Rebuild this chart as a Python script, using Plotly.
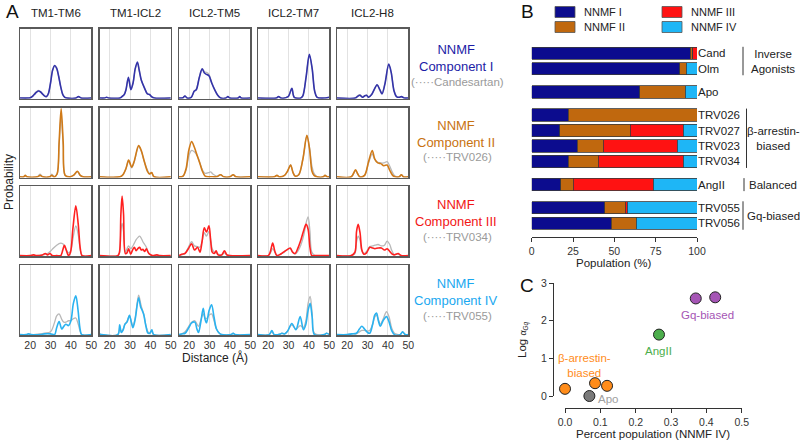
import plotly.graph_objects as go

# ---------------- Panel A data (knots of each distance distribution) ----------------
pair_names = ["TM1-TM6", "TM1-ICL2", "ICL2-TM5", "ICL2-TM7", "ICL2-H8"]
comp_names = ["NNMF<br>Component I", "NNMF<br>Component II", "NNMF<br>Component III", "NNMF<br>Component IV"]
ref_names = ["(·····Candesartan)", "(·····TRV026)", "(·····TRV034)", "(·····TRV055)"]

comp1_dist = [
    [15, 19, 20, 21, 22, 23, 24, 25, 26, 27, 28, 29, 30, 31, 32, 33, 34, 35, 36, 37, 38, 42.5, 43.7, 45, 50],
    [15, 17.5, 18.5, 19.5, 25, 26, 27.2, 28, 29.2, 30.4, 31.5, 32.5, 33.6, 34.5, 35.5, 37, 38.5, 39.6, 40.5, 42, 50],
    [15, 17, 17.9, 19, 21, 22.5, 23.5, 25, 26.4, 27.5, 28.5, 29.7, 31, 32.5, 34, 35.5, 38, 39, 40, 44, 44.8, 45.6, 50],
    [15, 24, 25.1, 26.3, 29.8, 31.6, 32.8, 36, 37, 38.6, 40.2, 41.6, 42.8, 44, 48, 50],
    [15, 24, 25, 26.2, 27.5, 28.5, 29.5, 30.5, 32, 34.7, 36, 37.1, 38.5, 40.4, 41.6, 43, 44.2, 45.5, 46.6, 48, 50],
]
comp1_prob = [
    [0, 0, 0.005, 0.02, 0.05, 0.08, 0.10, 0.09, 0.06, 0.03, 0.02, 0.07, 0.22, 0.40, 0.47, 0.43, 0.31, 0.16, 0.05, 0.01, 0, 0, 0.02, 0, 0],
    [0, 0, 0.01, 0, 0, 0.02, 0.05, 0.12, 0.30, 0.12, 0.22, 0.42, 0.52, 0.40, 0.26, 0.15, 0.06, 0.05, 0.02, 0, 0],
    [0, 0.005, 0.03, 0, 0.01, 0.1, 0.12, 0.3, 0.42, 0.36, 0.34, 0.32, 0.22, 0.12, 0.04, 0, 0, 0.02, 0, 0, 0.02, 0, 0],
    [0, 0, 0.02, 0, 0.02, 0.14, 0.01, 0, 0.03, 0.3, 0.63, 0.42, 0.1, 0.01, 0, 0.01],
    [0, 0, 0.02, 0.04, 0.01, 0.03, 0.04, 0.01, 0.05, 0.19, 0.12, 0.06, 0.2, 0.49, 0.37, 0.1, 0.02, 0.01, 0.02, 0, 0],
]
comp1_ref = [
    [0, 0, 0.005, 0.025, 0.06, 0.09, 0.11, 0.09, 0.06, 0.03, 0.02, 0.07, 0.22, 0.40, 0.46, 0.42, 0.31, 0.16, 0.05, 0.01, 0, 0, 0.02, 0, 0],
    [0, 0, 0.01, 0, 0, 0.02, 0.06, 0.12, 0.28, 0.13, 0.22, 0.41, 0.50, 0.40, 0.26, 0.15, 0.06, 0.05, 0.02, 0, 0],
    [0, 0.005, 0.03, 0, 0.01, 0.1, 0.13, 0.3, 0.42, 0.38, 0.37, 0.34, 0.23, 0.12, 0.04, 0, 0, 0.02, 0, 0, 0.02, 0, 0],
    [0, 0, 0.02, 0, 0.02, 0.14, 0.01, 0, 0.03, 0.3, 0.62, 0.42, 0.11, 0.01, 0, 0.01],
    [0, 0, 0.03, 0.05, 0.02, 0.03, 0.04, 0.01, 0.05, 0.19, 0.12, 0.07, 0.2, 0.48, 0.37, 0.11, 0.02, 0.01, 0.02, 0, 0],
]

comp2_dist = [
    [15, 16.8, 17.6, 18.5, 23.5, 24.9, 26.2, 29.5, 30.6, 31.8, 33.2, 34.2, 35.2, 36.2, 37.2, 39.5, 41.2, 43.2, 44.6, 46, 50],
    [15, 25, 26.5, 28, 29.3, 30.8, 32, 34.2, 35.5, 37, 38.5, 39.5, 40.6, 41.8, 50],
    [15, 17, 18.5, 19.8, 21.2, 22.5, 24, 25.3, 26.5, 27.8, 29.5, 30.6, 31.6, 33.5, 35.4, 37, 40, 41.6, 43, 50],
    [15, 23, 24.3, 25.5, 28, 29.5, 31, 32.2, 33.2, 35, 37, 39, 40.3, 41.5, 42.5, 44, 47, 47.9, 49, 50],
    [15, 22, 24.1, 25.2, 26.2, 28.5, 30.5, 32.3, 33.5, 35, 36.5, 38, 39.6, 40.8, 42.3, 43.5, 45.5, 46.6, 47.6, 50],
]
comp2_prob = [
    [0, 0, 0.02, 0, 0, 0.02, 0, 0, 0.02, 0, 0.04, 0.5, 0.98, 0.5, 0.02, 0, 0.02, 0.08, 0.02, 0, 0],
    [0, 0, 0.03, 0.12, 0.24, 0.14, 0.22, 0.45, 0.38, 0.22, 0.08, 0.04, 0.06, 0, 0],
    [0, 0.01, 0.12, 0.38, 0.51, 0.43, 0.3, 0.19, 0.08, 0.01, 0, 0, 0, 0, 0.03, 0, 0, 0.03, 0, 0],
    [0, 0, 0.02, 0, 0.02, 0.08, 0.17, 0.06, 0.01, 0.03, 0.25, 0.6, 0.4, 0.08, 0.02, 0, 0, 0.02, 0, 0],
    [0, 0, 0.1, 0.04, 0, 0.02, 0.22, 0.38, 0.26, 0.2, 0.19, 0.16, 0.17, 0.1, 0.02, 0, 0, 0.03, 0, 0],
]
comp2_ref = [
    [0, 0, 0.01, 0, 0, 0.04, 0, 0, 0.04, 0, 0.04, 0.45, 0.88, 0.45, 0.02, 0, 0.02, 0.07, 0.02, 0, 0],
    [0, 0, 0.03, 0.12, 0.23, 0.13, 0.21, 0.44, 0.37, 0.22, 0.1, 0.05, 0.06, 0, 0],
    [0, 0.01, 0.1, 0.3, 0.38, 0.36, 0.3, 0.2, 0.1, 0.05, 0.06, 0.07, 0.04, 0.01, 0.03, 0, 0, 0.03, 0, 0],
    [0, 0, 0.02, 0, 0.02, 0.08, 0.17, 0.06, 0.01, 0.03, 0.25, 0.59, 0.42, 0.15, 0.05, 0, 0, 0.02, 0, 0],
    [0, 0, 0.09, 0.04, 0, 0.02, 0.2, 0.33, 0.25, 0.21, 0.2, 0.2, 0.22, 0.16, 0.06, 0.01, 0, 0.03, 0, 0],
]

comp3_dist = [
    [15, 20, 21.7, 23, 26, 27.4, 28.5, 29.8, 30.8, 33, 35, 36, 36.8, 37.7, 38.8, 39.8, 41, 42.4, 43.6, 44.6, 45.5, 50],
    [15, 24, 24.8, 25.5, 26.1, 26.8, 27.7, 28.5, 29.3, 30.3, 31.2, 32.1, 33, 33.8, 34.7, 35.5, 36.3, 37.2, 38, 38.8, 39.6, 41, 43.2, 44.5, 50],
    [15, 16.3, 17.9, 19.6, 21.2, 22.6, 24.1, 25.3, 26.3, 27.4, 28.5, 29.7, 30.6, 31.3, 32.3, 33.2, 34.2, 36, 37.3, 38.5, 40, 50],
    [15, 20, 21, 22.2, 23.3, 24.3, 26, 27.5, 29, 30.8, 32, 33.2, 34.5, 36, 37.5, 38.6, 39.6, 40.5, 41.4, 43, 50],
    [15, 22, 23.8, 24.6, 25.4, 26.3, 27.2, 28.2, 29.5, 31.1, 32.5, 33.6, 35.2, 36.8, 38.3, 39.6, 40.9, 41.8, 43, 45, 46.5, 50],
]
comp3_prob = [
    [0, 0, 0.01, 0, 0.01, 0.03, 0.01, 0.03, 0, 0, 0, 0.08, 0.15, 0.08, 0, 0.05, 0.4, 0.72, 0.45, 0.1, 0, 0],
    [0, 0, 0.05, 0.6, 0.86, 0.6, 0.03, 0.04, 0.1, 0.02, 0.08, 0.12, 0.07, 0.1, 0.12, 0.08, 0.09, 0.06, 0.1, 0.05, 0.02, 0, 0.01, 0, 0],
    [0, 0.02, 0.03, 0.1, 0.17, 0.08, 0.12, 0.05, 0.2, 0.4, 0.34, 0.43, 0.2, 0.05, 0.03, 0.07, 0.01, 0.01, 0.07, 0.01, 0, 0],
    [0, 0, 0.05, 0.18, 0.06, 0, 0.02, 0.05, 0.08, 0.11, 0.05, 0.03, 0.1, 0.22, 0.37, 0.45, 0.38, 0.12, 0, 0, 0],
    [0, 0, 0.05, 0.35, 0.45, 0.33, 0.08, 0.02, 0.04, 0.12, 0.11, 0.1, 0.11, 0.11, 0.08, 0.1, 0.06, 0.03, 0.01, 0.03, 0, 0],
]
comp3_ref = [
    [0, 0, 0.01, 0, 0.01, 0.02, 0.03, 0.06, 0.09, 0.15, 0.18, 0.17, 0.14, 0.08, 0.04, 0.06, 0.25, 0.43, 0.3, 0.08, 0, 0],
    [0, 0, 0.03, 0.35, 0.47, 0.35, 0.05, 0.1, 0.14, 0.1, 0.13, 0.18, 0.23, 0.26, 0.28, 0.25, 0.2, 0.16, 0.12, 0.06, 0.02, 0, 0.01, 0, 0],
    [0, 0.01, 0.03, 0.12, 0.2, 0.14, 0.13, 0.12, 0.2, 0.33, 0.28, 0.35, 0.22, 0.1, 0.05, 0.04, 0.02, 0.01, 0.04, 0.01, 0, 0],
    [0, 0, 0.03, 0.1, 0.05, 0, 0.02, 0.04, 0.08, 0.1, 0.05, 0.02, 0.06, 0.15, 0.3, 0.47, 0.56, 0.35, 0.05, 0, 0],
    [0, 0, 0.03, 0.2, 0.28, 0.22, 0.07, 0.03, 0.06, 0.13, 0.14, 0.15, 0.16, 0.14, 0.15, 0.21, 0.16, 0.08, 0.02, 0.02, 0, 0],
]

comp4_dist = [
    [15, 18, 19.2, 20.5, 25, 27, 30, 32, 33, 34.2, 35.5, 36.5, 37.5, 38.8, 40, 41.2, 42.4, 43.5, 44.5, 45.3, 50],
    [15, 16, 24, 24.9, 25.7, 26.5, 27.5, 28.5, 29.7, 30.6, 31.4, 32.5, 34.2, 35.2, 35.8, 36.7, 37.8, 38.8, 39.7, 40.7, 41.6, 50],
    [15, 16.3, 18, 19.8, 21.2, 22.8, 23.8, 24.6, 25.8, 26.9, 27.8, 28.5, 29.8, 31, 32.2, 33.4, 34.8, 36, 40.5, 41.6, 42.5, 50],
    [15, 20.5, 21.8, 23, 26, 26.7, 28, 29.5, 31.6, 33.6, 35.7, 37.3, 38.5, 39.6, 40.6, 41.6, 42.7, 47.5, 48.7, 50],
    [15, 20, 22.2, 24.5, 26, 27.2, 28.5, 30, 31.1, 32.5, 33.5, 34.4, 35.3, 36.3, 37.6, 39.3, 40.6, 41.8, 43.2, 46, 47.2, 48.5, 50],
]
comp4_prob = [
    [0, 0, 0.01, 0, 0, 0.01, 0.01, 0, 0.1, 0.19, 0.08, 0.12, 0.15, 0.13, 0.2, 0.45, 0.56, 0.35, 0.08, 0, 0],
    [0.01, 0, 0, 0.14, 0.03, 0.06, 0.15, 0.18, 0.28, 0.18, 0.1, 0.22, 0.53, 0.4, 0.36, 0.29, 0.12, 0.02, 0.02, 0.07, 0, 0],
    [0, 0.01, 0.02, 0.1, 0.17, 0.18, 0.08, 0.03, 0.2, 0.38, 0.22, 0.17, 0.35, 0.43, 0.25, 0.08, 0.02, 0, 0, 0.02, 0, 0],
    [0, 0, 0.06, 0, 0.01, 0.02, 0.01, 0.05, 0.16, 0.07, 0.26, 0.07, 0.15, 0.35, 0.45, 0.25, 0, 0, 0.02, 0],
    [0, 0, 0.01, 0.02, 0.08, 0.12, 0.08, 0.03, 0.02, 0.15, 0.28, 0.31, 0.2, 0.12, 0.2, 0.26, 0.18, 0.06, 0, 0, 0.04, 0, 0],
]
comp4_ref = [
    [0, 0, 0.01, 0, 0.01, 0.02, 0.04, 0.18, 0.27, 0.3, 0.22, 0.18, 0.18, 0.2, 0.2, 0.23, 0.24, 0.16, 0.05, 0, 0],
    [0.01, 0, 0, 0.1, 0.05, 0.07, 0.15, 0.19, 0.27, 0.19, 0.12, 0.24, 0.57, 0.45, 0.38, 0.3, 0.13, 0.04, 0.02, 0.05, 0, 0],
    [0, 0.01, 0.04, 0.12, 0.18, 0.2, 0.15, 0.12, 0.22, 0.3, 0.24, 0.23, 0.28, 0.3, 0.2, 0.08, 0.02, 0, 0, 0.02, 0, 0],
    [0, 0, 0.04, 0, 0.01, 0.02, 0.01, 0.05, 0.14, 0.08, 0.13, 0.1, 0.2, 0.45, 0.55, 0.3, 0.02, 0, 0.02, 0],
    [0, 0, 0.01, 0.01, 0.04, 0.06, 0.06, 0.05, 0.06, 0.15, 0.25, 0.28, 0.22, 0.15, 0.22, 0.33, 0.25, 0.1, 0.02, 0, 0.04, 0, 0],
]

# ---------------- Panel B data ----------------
ligands = ["Cand", "Olm", "Apo", "TRV026", "TRV027", "TRV023", "TRV034", "AngII", "TRV055", "TRV056"]
ligand_group = [0, 0, 1, 2, 2, 2, 2, 3, 4, 4]
group_names = ["Inverse<br>Agonists", "", "β-arrestin-<br>biased", "Balanced", "Gq-biased"]
nnmf_names = ["NNMF I", "NNMF II", "NNMF III", "NNMF IV"]
nnmf1 = [96, 89.5, 65.4, 22, 17, 27.6, 22.1, 17.5, 44.3, 48.1]
nnmf2 = [1.5, 4, 27.6, 78, 42.7, 15.7, 18.3, 7.6, 12.3, 15.1]
nnmf3 = [2.5, 0, 0, 0, 32.1, 44.8, 51.4, 48.5, 1.2, 0]
nnmf4 = [0, 6.5, 7, 0, 8.2, 11.9, 8.2, 26.4, 42.2, 36.8]

# ---------------- Panel C data ----------------
c_class = ["β-arrestin", "β-arrestin", "β-arrestin", "Apo", "AngII", "Gq", "Gq"]
c_pct_iv = [0.0, 0.085, 0.119, 0.069, 0.266, 0.37, 0.425]
c_log_alpha = [0.19, 0.34, 0.27, 0.0, 1.63, 2.59, 2.62]

# ---------------- styling ----------------
W, H = 800, 440
FONT = "Liberation Sans, Arial, sans-serif"
def px(x): return x / W
def py(y): return 1 - y / H

bar_cols = ["#0c0c8e", "#c0680e", "#ff1212", "#1eb6f6"]
line_cols = ["#3333aa", "#d07a18", "#ff2020", "#2ab2f0"]
text_cols = ["#1c1ca6", "#c8720f", "#f21616", "#1aa8f0"]
ref_col = "#b8b8b8"
class_cols = {"β-arrestin": "#ff8c1a", "Apo": "#7a7a7a", "AngII": "#4cae4c", "Gq": "#a555b5"}

fig = go.Figure()
layout = dict(width=W, height=H, margin=dict(l=0, r=0, t=0, b=0, pad=0, autoexpand=False),
              paper_bgcolor="white", plot_bgcolor="white", showlegend=False,
              font=dict(family=FONT, color="#222"), barmode="stack")
annotations, shapes = [], []

def note(text, x, y, size, color="#222", xanchor="center", angle=0, align="center"):
    annotations.append(dict(x=px(x), y=py(y), xref="paper", yref="paper", text=text,
                            xanchor=xanchor, yanchor="middle", showarrow=False, align=align,
                            textangle=angle, font=dict(size=size, color=color)))

col_left = [20, 99.5, 179, 258, 337]
pw = 71.3
row_top = [28.7, 107.5, 186.3, 265.3]
ph = 70

dists = [comp1_dist, comp2_dist, comp3_dist, comp4_dist]
probs = [comp1_prob, comp2_prob, comp3_prob, comp4_prob]
refs = [comp1_ref, comp2_ref, comp3_ref, comp4_ref]

for r in range(4):
    for c in range(5):
        k = r * 5 + c + 1
        xa = "x" if k == 1 else f"x{k}"
        ya = "y" if k == 1 else f"y{k}"
        xk = "xaxis" if k == 1 else f"xaxis{k}"
        yk = "yaxis" if k == 1 else f"yaxis{k}"
        layout[xk] = dict(domain=[px(col_left[c]), px(col_left[c] + pw)], anchor=ya,
                          range=[15, 50], tickvals=[20, 30, 40, 50], showgrid=True,
                          gridcolor="#e2e2e2", gridwidth=1, zeroline=False, automargin=False,
                          showline=True, mirror=True, linecolor="#5a5a5a", linewidth=1.5,
                          ticks="", showticklabels=(r == 3),
                          tickfont=dict(size=10.5, color="#333"))
        layout[yk] = dict(domain=[py(row_top[r] + ph), py(row_top[r])], anchor=xa,
                          range=[-0.01, 1.0], showgrid=False, zeroline=False, automargin=False,
                          showline=True, mirror=True, linecolor="#5a5a5a", linewidth=1.5,
                          ticks="", showticklabels=False)
        fig.add_trace(go.Scatter(x=dists[r][c], y=refs[r][c], mode="lines", xaxis=xa, yaxis=ya,
                                 line=dict(color=ref_col, width=1.3, shape="spline", smoothing=0.9),
                                 hoverinfo="skip"))
        fig.add_trace(go.Scatter(x=dists[r][c], y=probs[r][c], mode="lines", xaxis=xa, yaxis=ya,
                                 line=dict(color=line_cols[r], width=1.6, shape="spline", smoothing=0.9),
                                 hoverinfo="skip"))

for c in range(5):
    note(pair_names[c], col_left[c] + pw / 2, 13, 11.5)
label_y = [(50, 66, 82), (126, 142, 157.5), (205, 221, 237), (284, 300, 316)]
for r in range(4):
    note(comp_names[r], 456, (label_y[r][0] + label_y[r][1]) / 2, 13, text_cols[r])
    note(ref_names[r], 457, label_y[r][2], 11.5, "#9a9a9a")
note("Probability", 9, 182, 12, angle=-90)
note("Distance (Å)", 215, 357, 12)
note("A", 12, 12, 19, "#111")
note("B", 527, 12, 19, "#111")
note("C", 527, 285, 19, "#111")

# ---------------- Panel B ----------------
ypos = [i + 0.5 * g for i, g in enumerate(ligand_group)]
for vals, name, col in zip([nnmf1, nnmf2, nnmf3, nnmf4], nnmf_names, bar_cols):
    fig.add_trace(go.Bar(y=ypos, x=vals, orientation="h", name=name, width=0.8,
                         marker=dict(color=col, line=dict(color="#3a3a3a", width=0.8)),
                         xaxis="x21", yaxis="y21", hoverinfo="skip"))
layout["xaxis21"] = dict(domain=[px(531.7), px(697)], anchor="y21", range=[0, 100],
                         tickvals=[0, 25, 50, 75, 100], ticks="outside", ticklen=4,
                         tickcolor="#333", showline=True, linecolor="#333", linewidth=1,
                         showgrid=False, zeroline=False, automargin=False,
                         tickfont=dict(size=10.5, color="#333"))
layout["yaxis21"] = dict(domain=[py(237.3), py(37.85)], anchor="x21", range=[11.91, -1],
                         side="right", tickvals=ypos, ticktext=ligands, ticks="",
                         showline=False, showgrid=False, zeroline=False, automargin=False,
                         tickfont=dict(size=11.5, color="#222"))
note("Population (%)", 614, 263, 11.5)

leg_pos = [(555, 12), (555, 27), (662, 12), (662, 27)]
for (lx, ly), name, col in zip(leg_pos, nnmf_names, bar_cols):
    shapes.append(dict(type="rect", xref="paper", yref="paper", x0=px(lx), x1=px(lx + 20),
                       y0=py(ly + 5.5), y1=py(ly - 5.5), fillcolor=col, line=dict(color="#555", width=0.8)))
    note(name, lx + 27, ly, 11, xanchor="left")

px_per = 15.45
def bar_y(v): return 53.3 + v * px_per
groups_span = {}
for p, g in zip(ypos, ligand_group):
    groups_span.setdefault(g, []).append(p)
bx = [743, None, 746.5, 744, 743]
for g, plist in groups_span.items():
    if not group_names[g]:
        continue
    y0 = bar_y(min(plist)) - 6.5
    y1 = bar_y(max(plist)) + 6.5
    shapes.append(dict(type="line", xref="paper", yref="paper", x0=px(bx[g]), x1=px(bx[g]),
                       y0=py(y0), y1=py(y1), line=dict(color="#333", width=1)))
    note(group_names[g], 773, (y0 + y1) / 2, 11.5)

# ---------------- Panel C ----------------
for cls in ["β-arrestin", "Apo", "AngII", "Gq"]:
    xs = [x for x, k in zip(c_pct_iv, c_class) if k == cls]
    ys = [y for y, k in zip(c_log_alpha, c_class) if k == cls]
    fig.add_trace(go.Scatter(x=xs, y=ys, mode="markers", xaxis="x22", yaxis="y22", cliponaxis=False,
                             marker=dict(size=11, color=class_cols[cls], line=dict(color="#222", width=1)),
                             hoverinfo="skip"))
layout["xaxis22"] = dict(domain=[px(565), px(741.7)], anchor="free", position=py(408),
                         range=[0, 0.5], tickvals=[0, 0.1, 0.2, 0.3, 0.4, 0.5], tickformat=".1f",
                         ticks="outside", ticklen=4, tickcolor="#333", showline=True,
                         linecolor="#333", linewidth=1, showgrid=False, zeroline=False, automargin=False,
                         tickfont=dict(size=10.5, color="#333"))
layout["yaxis22"] = dict(domain=[py(396), py(283)], anchor="free", position=px(553),
                         range=[0, 3], tickvals=[0, 1, 2, 3], ticks="outside", ticklen=4,
                         tickcolor="#333", showline=True, linecolor="#333", linewidth=1,
                         showgrid=False, zeroline=False, automargin=False,
                         tickfont=dict(size=10.5, color="#333"))
note("Percent population (NNMF IV)", 653, 433.5, 11.5)
note("Log <span style='font-size:9px'><i>α</i><sub><i>Gq</i></sub></span>", 523, 340, 11.5, angle=-90)
note("Gq-biased", 707, 315, 11.5, class_cols["Gq"])
note("AngII", 658, 351, 11.5, class_cols["AngII"])
note("β-arrestin-<br>biased", 584, 365.5, 11.5, class_cols["β-arrestin"])
note("Apo", 608, 399, 11.5, "#a0a0a0")

layout["annotations"] = annotations
layout["shapes"] = shapes
fig.update_layout(**layout)
fig.write_html("out.html", config={"displayModeBar": False, "staticPlot": True},
               post_script="document.body.style.margin='0';document.body.style.padding='0';")
